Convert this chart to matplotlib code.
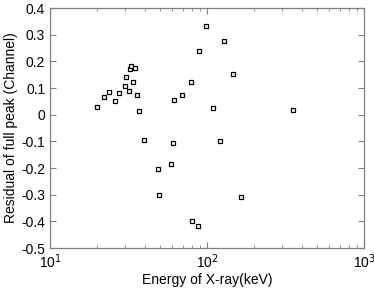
import numpy as np
import matplotlib.pyplot as plt
from matplotlib.ticker import FixedLocator, FuncFormatter

plt.rcParams['font.family'] = ['Liberation Sans', 'DejaVu Sans']

# Energy (keV) and residual (channel)
energy = [20.0, 22.0, 23.9, 25.9, 27.7, 29.9, 30.5, 31.7, 32.3, 32.8, 33.8,
          34.8, 35.6, 36.9, 39.5, 48.7, 49.7, 59.0, 60.4, 61.9, 69.0, 78.7,
          80.3, 87.2, 88.9, 98.5, 109.2, 121.0, 128.3, 146.4, 164.7, 351.0]
residual = [0.027, 0.065, 0.086, 0.050, 0.081, 0.109, 0.141, 0.090, 0.170,
            0.184, 0.121, 0.174, 0.074, 0.014, -0.096, -0.204, -0.301, -0.184,
            -0.105, 0.054, 0.074, 0.121, -0.398, -0.419, 0.238, 0.334, 0.025,
            -0.098, 0.276, 0.153, -0.310, 0.016]
yticks = [0.4, 0.3, 0.2, 0.1, 0, -0.1, -0.2, -0.3, -0.4, -0.5]

fig = plt.figure(figsize=(3.74, 2.88), dpi=100)
ax = fig.add_axes([50/374, 1 - 248/288, 314/374, 240/288])

ax.plot(energy, residual, 's', mfc='white', mec='black', ms=3.4, mew=0.9)

ax.set_xscale('log')
ax.set_xlim(10, 1000)
ax.set_ylim(-0.5, 0.4)
ax.yaxis.set_major_locator(FixedLocator(yticks))
ax.yaxis.set_major_formatter(FuncFormatter(lambda v, p: '0' if abs(v) < 1e-9 else ('%g' % v).replace('\u2212', '-')))
ax.xaxis.set_major_formatter(FuncFormatter(lambda v, p: '10$^{%d}$' % round(np.log10(v))))

for s in ax.spines.values():
    s.set_color('#808080')
    s.set_linewidth(0.9)
ax.tick_params(which='both', direction='in', top=True, right=True, color='#808080', labelsize=10)
ax.tick_params(which='major', length=4)
ax.tick_params(which='minor', length=2)

ax.set_xlabel('Energy of X-ray(keV)', fontsize=10, labelpad=1)
ax.set_ylabel('Residual of full peak (Channel)', fontsize=10, labelpad=2)

fig.savefig('out.png', dpi=100)
